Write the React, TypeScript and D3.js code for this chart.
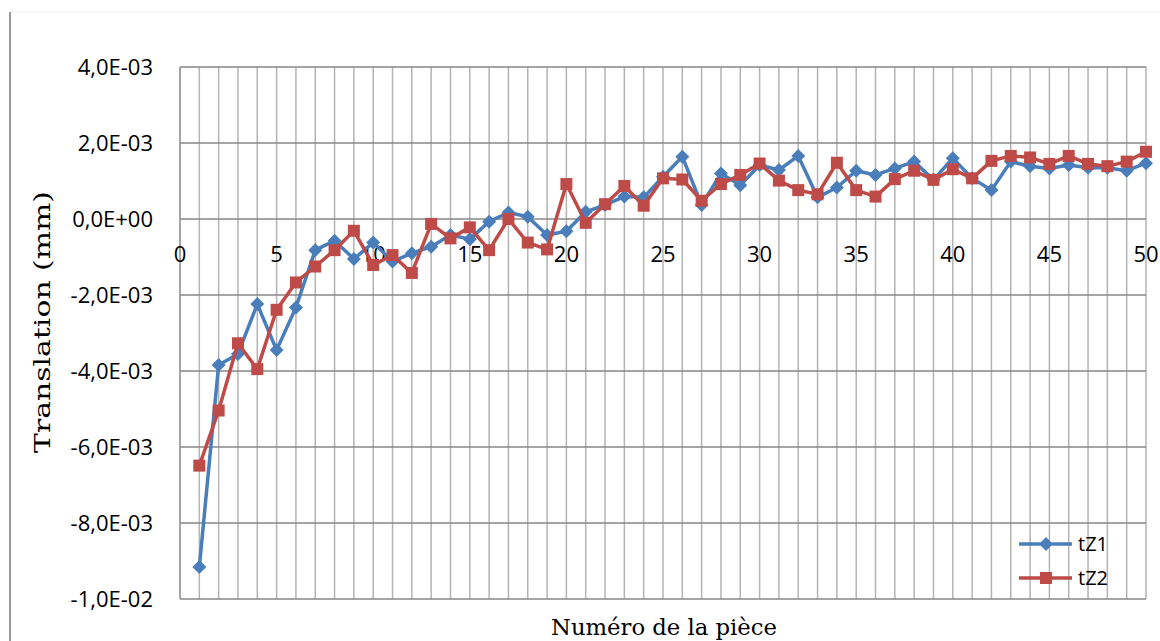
import React from "react";
import * as d3 from "d3";

// piece number 1..50
const pieces = d3.range(1, 51);

// tZ1 (mm)
const tZ1 = [
  -9.16e-3, -3.84e-3, -3.55e-3, -2.24e-3, -3.45e-3, -2.33e-3, -0.82e-3, -0.57e-3, -1.05e-3, -0.62e-3,
  -1.12e-3, -0.9e-3, -0.73e-3, -0.42e-3, -0.53e-3, -0.07e-3, 0.17e-3, 0.06e-3, -0.42e-3, -0.32e-3,
  0.19e-3, 0.37e-3, 0.59e-3, 0.57e-3, 1.11e-3, 1.64e-3, 0.37e-3, 1.2e-3, 0.89e-3, 1.42e-3,
  1.29e-3, 1.66e-3, 0.57e-3, 0.83e-3, 1.27e-3, 1.16e-3, 1.33e-3, 1.51e-3, 1.03e-3, 1.6e-3,
  1.07e-3, 0.76e-3, 1.51e-3, 1.39e-3, 1.33e-3, 1.42e-3, 1.35e-3, 1.35e-3, 1.27e-3, 1.47e-3,
];

// tZ2 (mm)
const tZ2 = [
  -6.49e-3, -5.04e-3, -3.27e-3, -3.95e-3, -2.39e-3, -1.67e-3, -1.25e-3, -0.82e-3, -0.31e-3, -1.21e-3,
  -0.95e-3, -1.42e-3, -0.13e-3, -0.51e-3, -0.22e-3, -0.82e-3, 0.0, -0.62e-3, -0.8e-3, 0.92e-3,
  -0.1e-3, 0.39e-3, 0.87e-3, 0.35e-3, 1.07e-3, 1.04e-3, 0.48e-3, 0.92e-3, 1.16e-3, 1.46e-3,
  1.01e-3, 0.76e-3, 0.65e-3, 1.48e-3, 0.76e-3, 0.59e-3, 1.05e-3, 1.27e-3, 1.03e-3, 1.31e-3,
  1.07e-3, 1.53e-3, 1.66e-3, 1.62e-3, 1.45e-3, 1.66e-3, 1.45e-3, 1.39e-3, 1.51e-3, 1.77e-3,
];

const yTicks = [4e-3, 2e-3, 0, -2e-3, -4e-3, -6e-3, -8e-3, -1e-2];
const xTicks = [0, 5, 10, 15, 20, 25, 30, 35, 40, 45, 50];
const xMinor = d3.range(1, 51);

const blue = "#4a7ebb";
const red = "#be4b48";
const sans = "'Open Sans', 'Noto Sans', sans-serif";
const serif = "'DejaVu Serif', 'Liberation Serif', serif";

// "4,0E-03" style, like Excel
const sci = (v: number) => {
  if (v === 0) return "0,0E+00";
  const exp = Math.floor(Math.log10(Math.abs(v)) + 1e-9);
  const mant = v / Math.pow(10, exp);
  const e = Math.abs(exp).toString().padStart(2, "0");
  return `${mant.toFixed(1).replace(".", ",")}E${exp < 0 ? "-" : "+"}${e}`;
};

export default function App() {
  const width = 1160,
    height = 641;
  const x = d3.scaleLinear().domain([0, 50]).range([180, 1146]);
  const y = d3.scaleLinear().domain([-1e-2, 4e-3]).range([599, 67]);

  const line = d3
    .line<number>()
    .x((_, i) => x(pieces[i]))
    .y((d) => y(d));

  const diamond = (cx: number, cy: number, r = 7) =>
    `M${cx},${cy - r}L${cx + r},${cy}L${cx},${cy + r}L${cx - r},${cy}Z`;

  return (
    <svg
      width={width}
      height={height}
      style={{ position: "absolute", left: 0, top: 0, background: "#fff" }}
    >
      {/* chart frame remnants */}
      <line x1={10} x2={width} y1={12} y2={12} stroke="#f0f0f0" strokeWidth={1} />
      <line x1={10} x2={10} y1={12} y2={height} stroke="#9a9a9a" strokeWidth={2} />

      {/* minor vertical gridlines */}
      {xMinor.map((v) => (
        <line key={"v" + v} x1={x(v)} x2={x(v)} y1={y(4e-3)} y2={y(-1e-2)} stroke="#b4b4b4" strokeWidth={1.5} />
      ))}

      {/* horizontal gridlines */}
      {yTicks.map((v) => (
        <line key={"h" + v} x1={x(0)} x2={x(50)} y1={y(v)} y2={y(v)} stroke="#878787" strokeWidth={1.5} />
      ))}
      <line x1={x(0)} x2={x(0)} y1={y(4e-3)} y2={y(-1e-2)} stroke="#878787" strokeWidth={1.5} />

      {/* y tick labels */}
      {yTicks.map((v) => (
        <text key={"yl" + v} x={153} y={y(v)} dy="0.36em" textAnchor="end" fontFamily={sans} fontSize={22} fill="#000">
          {sci(v)}
        </text>
      ))}

      {/* x tick labels, under the zero line */}
      {xTicks.map((v) => (
        <text key={"xl" + v} x={x(v)} y={y(0) + 43} textAnchor="middle" fontFamily={sans} fontSize={22} fill="#000">
          {v}
        </text>
      ))}

      {/* series */}
      <path d={line(tZ1) || ""} fill="none" stroke={blue} strokeWidth={3.5} strokeLinejoin="round" />
      {tZ1.map((d, i) => (
        <path key={"d" + i} d={diamond(x(pieces[i]), y(d))} fill={blue} />
      ))}
      <path d={line(tZ2) || ""} fill="none" stroke={red} strokeWidth={3.5} strokeLinejoin="round" />
      {tZ2.map((d, i) => (
        <rect key={"s" + i} x={x(pieces[i]) - 6} y={y(d) - 6} width={12} height={12} fill={red} />
      ))}

      {/* axis titles */}
      <text
        transform="translate(50,322) rotate(-90)"
        textAnchor="middle"
        fontFamily={serif}
        fontSize={23}
        textLength={262}
        lengthAdjust="spacingAndGlyphs"
        fill="#000"
      >
        Translation (mm)
      </text>
      <text
        x={664}
        y={635}
        textAnchor="middle"
        fontFamily={serif}
        fontSize={22}
        textLength={226}
        lengthAdjust="spacingAndGlyphs"
        fill="#000"
      >
        Numéro de la pièce
      </text>

      {/* legend */}
      <g fontFamily={sans} fontSize={20}>
        <line x1={1019} x2={1072} y1={544} y2={544} stroke={blue} strokeWidth={3.5} />
        <path d={diamond(1046, 544)} fill={blue} />
        <text x={1078} y={544} dy="0.36em" fill="#000">tZ1</text>
        <line x1={1019} x2={1072} y1={578} y2={578} stroke={red} strokeWidth={3.5} />
        <rect x={1040} y={572} width={12} height={12} fill={red} />
        <text x={1078} y={578} dy="0.36em" fill="#000">tZ2</text>
      </g>
    </svg>
  );
}
